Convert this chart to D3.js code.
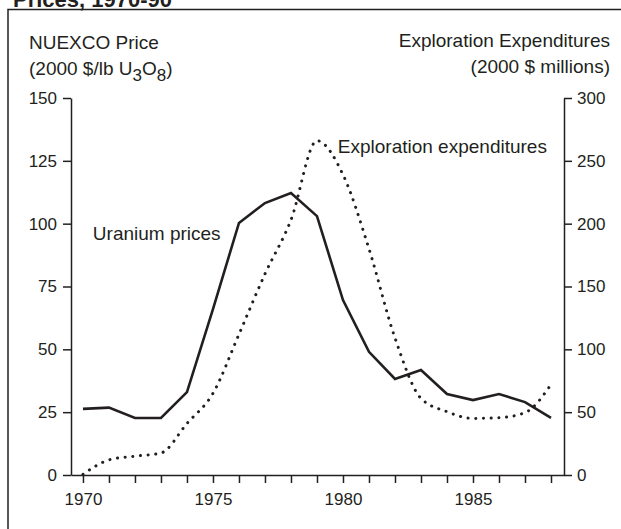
<!DOCTYPE html>
<html>
<head>
<meta charset="utf-8">
<script src="https://cdn.jsdelivr.net/npm/d3@7"></script>
<style>
  body { margin: 0; background: #fff; }
  svg text { font-family: "Liberation Sans", Arial, sans-serif; fill: #231f20; }
</style>
</head>
<body>
<div id="chart"></div>
<script>
// years on the x axis
let years = d3.range(1970, 1989);
// NUEXCO uranium price, 2000 $/lb U3O8 (left axis)
let uraniumPrices = [26.3, 26.8, 22.7, 22.7, 33, 66, 100.3, 108.2, 112.2, 103, 69.6, 49, 38.2, 41.8, 32.2, 29.8, 32.2, 29, 22.7];
// exploration expenditures, 2000 $ millions (right axis)
let exploration = [0.5, 12, 15, 17.5, 41, 65, 112, 160, 203, 266, 239, 180, 109, 61, 50.4, 45, 45.6, 49.6, 72];
let leftTicks = [0, 25, 50, 75, 100, 125, 150];
let rightTicks = [0, 50, 100, 150, 200, 250, 300];
let yearLabels = [1970, 1975, 1980, 1985];

let width = 621, height = 529;
let plot = {left: 71, right: 564, top: 98, bottom: 475};

let svg = d3.select("#chart").append("svg")
  .attr("width", width)
  .attr("height", height);

// frame + clipped title
svg.append("text")
  .attr("x", 13)
  .attr("y", 7)
  .style("font-size", "22px")
  .style("font-weight", "bold")
  .text("Prices, 1970-90");

svg.append("rect")
  .attr("x", 8)
  .attr("y", 9.5)
  .attr("width", 640)
  .attr("height", 560)
  .attr("fill", "none")
  .attr("stroke", "#231f20")
  .attr("stroke-width", 1.5);

let x = d3.scaleLinear().domain([1969.54, 1988.5]).range([plot.left, plot.right]);
let yLeft = d3.scaleLinear().domain([0, 150]).range([plot.bottom, plot.top]);
let yRight = d3.scaleLinear().domain([0, 300]).range([plot.bottom, plot.top]);

let styleAxis = g => {
  g.selectAll("path, line").attr("stroke", "#231f20").attr("stroke-width", 1.5);
  g.selectAll("text").style("font-size", "17px").attr("fill", "#231f20");
}

svg.append("g")
  .attr("transform", `translate(${plot.left},0)`)
  .call(d3.axisLeft(yLeft).tickValues(leftTicks).tickSize(8).tickSizeOuter(0).tickPadding(6))
  .call(styleAxis);

svg.append("g")
  .attr("transform", `translate(${plot.right},0)`)
  .call(d3.axisRight(yRight).tickValues(rightTicks).tickSize(8).tickSizeOuter(0).tickPadding(5))
  .call(styleAxis);

svg.append("g")
  .attr("transform", `translate(0,${plot.bottom})`)
  .call(d3.axisBottom(x).tickValues(years).tickSize(8).tickSizeOuter(0).tickPadding(10)
    .tickFormat(d => yearLabels.includes(d) ? d : ""))
  .call(styleAxis);

// header labels
let leftHead = svg.append("g").style("font-size", "19px");
leftHead.append("text").attr("x", 29).attr("y", 49).text("NUEXCO Price");
let unit = leftHead.append("text").attr("x", 29).attr("y", 75);
unit.append("tspan").text("(2000 $/lb U");
unit.append("tspan").attr("dy", 6).style("font-size", "17px").text("3");
unit.append("tspan").attr("dy", -6).text("O");
unit.append("tspan").attr("dy", 6).style("font-size", "17px").text("8");
unit.append("tspan").attr("dy", -6).text(")");

let rightHead = svg.append("g").style("font-size", "19px").attr("text-anchor", "end");
rightHead.append("text").attr("x", 610).attr("y", 47).text("Exploration Expenditures");
rightHead.append("text").attr("x", 610).attr("y", 73).text("(2000 $ millions)");

// series
let priceLine = d3.line()
  .x((d, i) => x(years[i]))
  .y(d => yLeft(d));

let exploreLine = d3.line()
  .x((d, i) => x(years[i]))
  .y(d => yRight(d))
  .curve(d3.curveMonotoneX);

svg.append("path")
  .datum(exploration)
  .attr("d", exploreLine)
  .attr("fill", "none")
  .attr("stroke", "#231f20")
  .attr("stroke-width", 3)
  .attr("stroke-linecap", "round")
  .attr("stroke-dasharray", "0.1 7.6");

svg.append("path")
  .datum(uraniumPrices)
  .attr("d", priceLine)
  .attr("fill", "none")
  .attr("stroke", "#231f20")
  .attr("stroke-width", 2.6)
  .attr("stroke-linejoin", "miter");

// inline series labels
svg.append("text")
  .attr("x", x(1970.38))
  .attr("y", yLeft(93.5))
  .style("font-size", "19px")
  .text("Uranium prices");

svg.append("text")
  .attr("x", x(1979.8))
  .attr("y", yRight(256))
  .style("font-size", "19px")
  .text("Exploration expenditures");
</script>
</body>
</html>
